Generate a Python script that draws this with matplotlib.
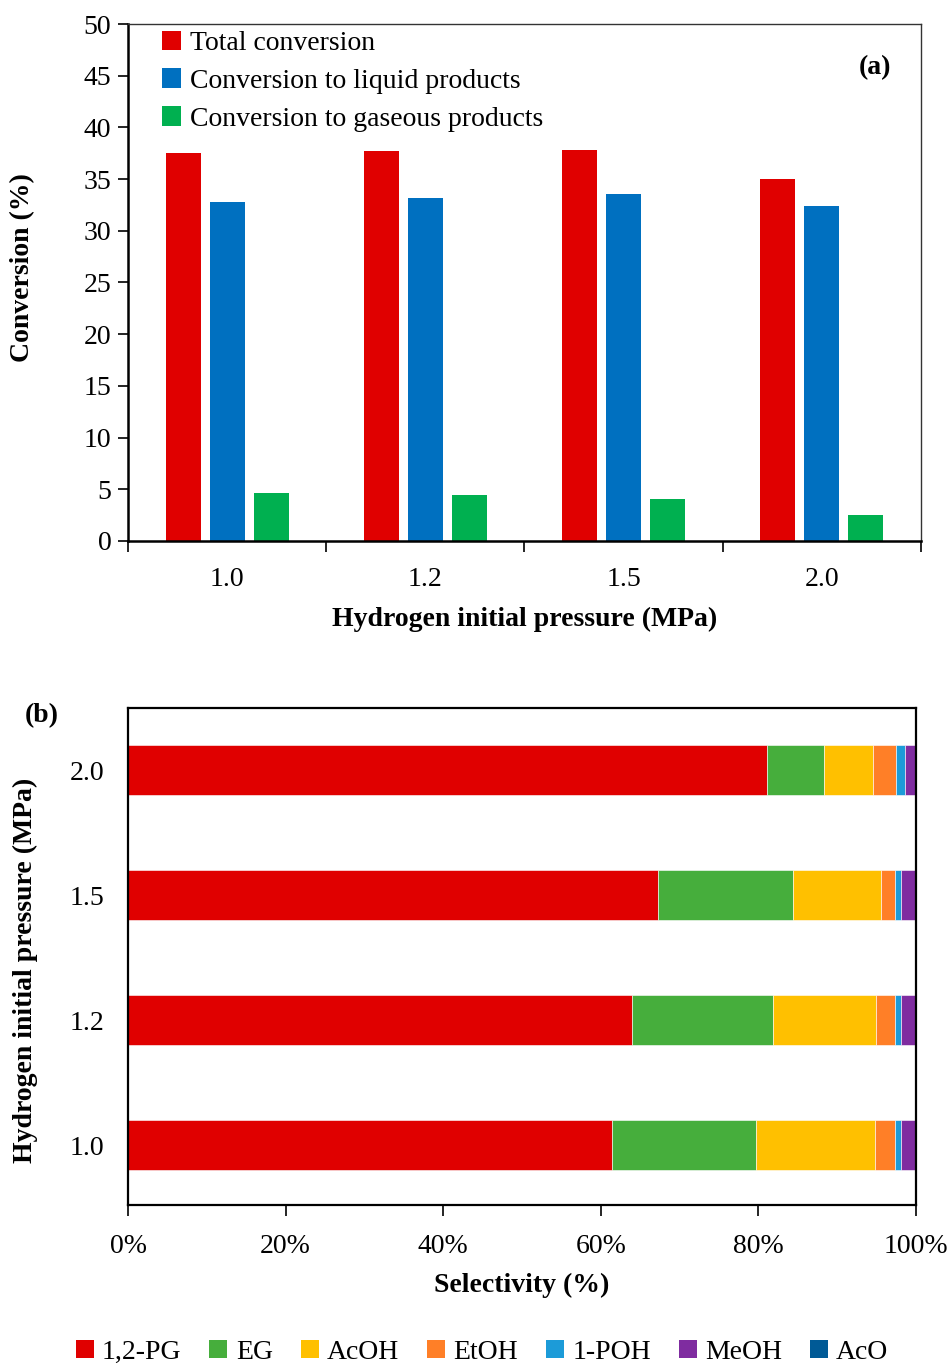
import matplotlib
matplotlib.use("Agg")
import matplotlib.pyplot as plt
import numpy as np
from matplotlib.ticker import FixedLocator, PercentFormatter
from matplotlib.patches import Patch

plt.rcParams['font.family'] = ['Liberation Serif', 'DejaVu Serif']
plt.rcParams['font.size'] = 20

# (a) conversion vs hydrogen pressure
pressures = ['1.0', '1.2', '1.5', '2.0']
total_conv = [37.5, 37.7, 37.8, 35.0]
liquid_conv = [32.8, 33.2, 33.6, 32.4]
gas_conv = [4.6, 4.4, 4.1, 2.5]

# (b) liquid product selectivity, rows follow pressures
products = ['1,2-PG', 'EG', 'AcOH', 'EtOH', '1-POH', 'MeOH', 'AcO']
selectivity = {
    '1,2-PG': [61.4, 64.0, 67.3, 81.1],
    'EG':     [18.3, 17.8, 17.1, 7.2],
    'AcOH':   [15.1, 13.1, 11.2, 6.3],
    'EtOH':   [2.5, 2.4, 1.7, 2.8],
    '1-POH':  [0.8, 0.8, 0.8, 1.2],
    'MeOH':   [1.9, 1.9, 1.9, 1.4],
    'AcO':    [0.0, 0.0, 0.0, 0.0],
}
prod_colors = ['#E00000', '#46AE3C', '#FFC000', '#FF7F27', '#1C9BD8', '#7F2CA0', '#005A96']

fig = plt.figure(figsize=(9.47, 13.65), dpi=100)

# ---- top panel ----
ax1 = fig.add_axes([0.1352, 0.6037, 0.8373, 0.3787])
x = np.arange(len(pressures))
w = 0.177
step = 0.222
series = [
    (total_conv, '#E00000', 'Total conversion'),
    (liquid_conv, '#0070C0', 'Conversion to liquid products'),
    (gas_conv, '#00B050', 'Conversion to gaseous products'),
]
for i, (vals, col, lab) in enumerate(series):
    ax1.bar(x + (i - 1) * step, vals, width=w, color=col, label=lab)

ax1.set_xlim(-0.5, 3.5)
ax1.set_ylim(0, 50)
ax1.set_yticks(np.arange(0, 51, 5))
ax1.xaxis.set_major_locator(FixedLocator(np.arange(-0.5, 3.6, 1.0)))
ax1.xaxis.set_minor_locator(FixedLocator(x))
ax1.set_xticklabels([])
ax1.set_xticklabels(pressures, minor=True)
ax1.tick_params(axis='x', which='major', length=8, width=1.2, direction='out')
ax1.tick_params(axis='x', which='minor', length=0, pad=19)
ax1.tick_params(axis='y', length=7, width=1.2, direction='out', pad=5)
for s in ['left', 'bottom']:
    ax1.spines[s].set_linewidth(1.8)
for s in ['top', 'right']:
    ax1.spines[s].set_linewidth(1.0)
    ax1.spines[s].set_color('#333333')
ax1.set_ylabel('Conversion (%)', fontweight='bold')
ax1.yaxis.set_label_coords(-0.117, 0.528)
ax1.set_xlabel('Hydrogen initial pressure (MPa)', fontweight='bold')
ax1.xaxis.set_label_coords(0.5, -0.128)
ax1.legend(loc='upper left', bbox_to_anchor=(0.018, 1.025), frameon=False,
           handlelength=0.7, handleheight=0.7, handletextpad=0.3,
           labelspacing=0.45, borderaxespad=0.3)
ax1.text(0.942, 0.915, '(a)', transform=ax1.transAxes, ha='center', va='center',
         fontweight='bold')

# ---- bottom panel ----
ax2 = fig.add_axes([0.1352, 0.1172, 0.8321, 0.3641])
y = np.arange(len(pressures))
left = np.zeros(len(pressures))
for name, col in zip(products, prod_colors):
    vals = np.array(selectivity[name])
    ax2.barh(y, vals, left=left, height=0.4, color=col, edgecolor='white',
             linewidth=0.4, label=name)
    left += vals

ax2.set_xlim(0, 100)
ax2.set_ylim(-0.48, 3.5)
ax2.set_yticks(y)
ax2.set_yticklabels(pressures)
ax2.set_xticks(np.arange(0, 101, 20))
ax2.xaxis.set_major_formatter(PercentFormatter(decimals=0))
ax2.tick_params(axis='y', length=0, pad=17)
ax2.tick_params(axis='x', length=8, width=1.2, direction='out', pad=13)
for s in ax2.spines.values():
    s.set_linewidth(1.6)
ax2.set_xlabel('Selectivity (%)', fontweight='bold')
ax2.xaxis.set_label_coords(0.5, -0.137)
ax2.set_ylabel('Hydrogen initial pressure (MPa)', fontweight='bold')
ax2.yaxis.set_label_coords(-0.114, 0.473)
ax2.text(-0.110, 0.985, '(b)', transform=ax2.transAxes, ha='center', va='center',
         fontweight='bold')

handles = [Patch(facecolor=c, label=n) for n, c in zip(products, prod_colors)]
fig.legend(handles=handles, loc='center', bbox_to_anchor=(0.509, 0.0095), ncol=7,
           frameon=False, handlelength=0.65, handleheight=0.65, handletextpad=0.3,
           columnspacing=1.0)

fig.savefig('out.png', dpi=100)
